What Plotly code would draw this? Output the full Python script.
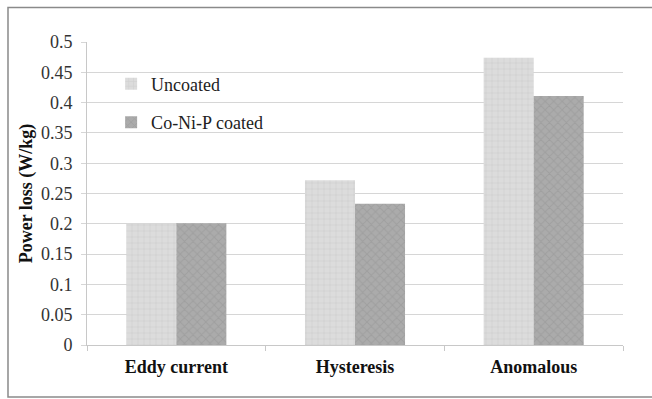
import plotly.graph_objects as go

# Power loss components, uncoated vs Co-Ni-P coated
categories = ["Eddy current", "Hysteresis", "Anomalous"]
uncoated = [0.200, 0.272, 0.474]
coated = [0.201, 0.233, 0.411]
y_ticks = [0, 0.05, 0.1, 0.15, 0.2, 0.25, 0.3, 0.35, 0.4, 0.45, 0.5]

SERIF = "Liberation Serif"

fig = go.Figure()
fig.add_trace(go.Bar(
    x=categories, y=uncoated, name="Uncoated", legendgroup="a",
    marker=dict(color="#dadada", line=dict(width=0),
                pattern=dict(shape="+", bgcolor="#dcdcdc", fgcolor="#c6c6c6",
                             size=6, solidity=0.25)),
))
fig.add_trace(go.Bar(
    x=categories, y=coated, name="Co-Ni-P coated", legendgroup="b",
    marker=dict(color="#aaaaaa", line=dict(width=0),
                pattern=dict(shape="x", bgcolor="#ababab", fgcolor="#939393",
                             size=6, solidity=0.3)),
))

fig.update_layout(
    width=652, height=399,
    margin=dict(l=87, r=29, t=42, b=54),
    paper_bgcolor="white", plot_bgcolor="white",
    barmode="group", bargap=0.44, bargroupgap=0,
    font=dict(family=SERIF, size=18, color="#222222"),
    showlegend=True,
    legend=dict(x=0.045, y=0.922, xanchor="left", yanchor="top",
                bgcolor="rgba(0,0,0,0)", tracegroupgap=12,
                traceorder="grouped",
                font=dict(family=SERIF, size=18, color="#222222")),
    xaxis=dict(
        type="category", showgrid=False, showline=True,
        linecolor="#c8c8c8", linewidth=1,
        ticks="outside", tickson="boundaries", ticklen=5, tickcolor="#c8c8c8",
        ticklabelstandoff=5,
        tickfont=dict(family=SERIF, size=18, color="#111111", weight="bold"),
    ),
    yaxis=dict(
        range=[0, 0.5], tickvals=y_ticks,
        ticktext=[f"{v:g}" for v in y_ticks],
        showgrid=True, gridcolor="#d6d6d6", gridwidth=1,
        showline=True, linecolor="#c8c8c8", linewidth=1,
        ticks="outside", ticklen=5, tickcolor="#d6d6d6",
        ticklabelstandoff=5,
        tickfont=dict(family=SERIF, size=18, color="#333333"),
        zeroline=False,
        title=dict(text="Power loss (W/kg)", standoff=3,
                   font=dict(family=SERIF, size=18, color="#111111", weight="bold")),
    ),
    shapes=[dict(type="rect", xref="paper", yref="paper",
                 x0=-0.1474, x1=1.09, y0=-0.172, y1=1.114,
                 line=dict(color="#8a8a8a", width=1.5), layer="below")],
)

fig.write_html("out.html")
